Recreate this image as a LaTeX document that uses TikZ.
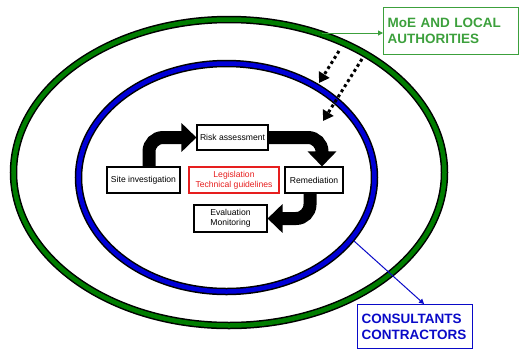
\documentclass[tikz,border=0pt]{standalone}
\usepackage{fontspec}
\setmainfont{Liberation Sans}
\usetikzlibrary{arrows.meta}
\definecolor{ringgreen}{RGB}{0,125,0}
\definecolor{ringblue}{RGB}{0,0,215}
\definecolor{labgreen}{RGB}{60,160,60}
\definecolor{labblue}{RGB}{10,10,200}
\definecolor{legred}{RGB}{230,30,30}
\tikzset{
  stepbox/.style={draw, line width=1.1pt, inner sep=1pt, font=\fontsize{8.6}{10}\selectfont, align=center},
  bigarrow/.style={line width=13pt, rounded corners=14pt, -{Triangle[length=15pt,width=28pt]}},
  dotarrow/.style={line width=3pt, dash pattern=on 3pt off 3pt, -{Triangle[length=10pt,width=12pt]}},
  labelbox/.style={draw, line width=1.2pt, font=\bfseries\fontsize{13.5}{16}\selectfont, align=left, inner xsep=4pt, anchor=north west},
}
\begin{document}
\begin{tikzpicture}[x=1pt,y=-1pt]
\useasboundingbox (0,0) rectangle (519,349);
% rings
\draw[line width=7.5pt] (229,172.5) ellipse [x radius=215.5, y radius=153];
\draw[line width=4.5pt, ringgreen] (229,172.5) ellipse [x radius=215.5, y radius=153];
\draw[line width=7.5pt] (226.5,177.5) ellipse [x radius=148, y radius=114];
\draw[line width=4.5pt, ringblue] (226.5,177.5) ellipse [x radius=148, y radius=114];
% boxes
\node[stepbox, minimum width=71pt, minimum height=25pt] (risk) at (232.5,137.5) {Risk assessment};
\node[stepbox, minimum width=73pt, minimum height=26pt] (site) at (143.5,180) {Site investigation};
\node[stepbox, draw=legred, text=legred, minimum width=90pt, minimum height=26pt] (legis) at (234,180) {Legislation\\Technical guidelines};
\node[stepbox, minimum width=58pt, minimum height=26pt] (remed) at (314,180) {Remediation};
\node[stepbox, minimum width=73pt, minimum height=27pt] (eval) at (230.5,218.5) {Evaluation\\Monitoring};
% thick arrows
\draw[bigarrow] ([xshift=5.5pt]site.north) |- (risk.west);
\draw[bigarrow] (risk.east) -| ([xshift=8pt]remed.north);
\draw[bigarrow] ([xshift=-4pt]remed.south) |- (eval.east);
% labels
\node[labelbox, draw=labgreen, text=labgreen, text width=127pt, minimum height=47pt] (moe) at (383,7) {MoE AND LOCAL\\AUTHORITIES};
\node[labelbox, draw=labblue, text=labblue, text width=107pt, minimum height=44pt] (cons) at (357,304) {CONSULTANTS\\CONTRACTORS};
% dotted arrows
\coordinate (d1s) at (339,51);
\coordinate (d1e) at (319,83);
\coordinate (d2s) at (362,59);
\coordinate (d2e) at (323,121);
\draw[dotarrow] (d1s) -- (d1e);
\draw[dotarrow] (d2s) -- (d2e);
% callout lines
\coordinate (g1) at (322,33);
\draw[labgreen, line width=1pt, -{Triangle[length=5pt,width=5pt]}] (g1) -- (g1 -| moe.west);
\coordinate (b1) at (354,241);
\draw[labblue, line width=1pt, -{Triangle[length=5pt,width=5pt]}] (b1) -- ([xshift=9pt]cons.north);
\end{tikzpicture}
\end{document}
